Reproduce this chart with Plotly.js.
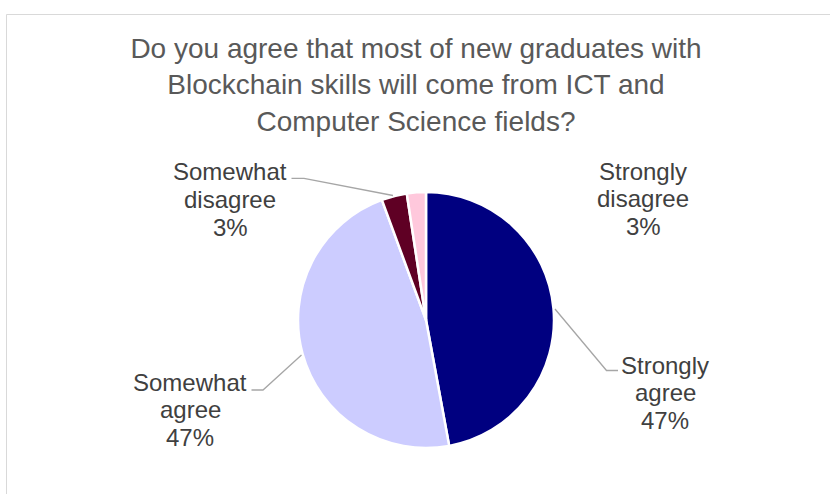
<!DOCTYPE html>
<html>
<head>
<meta charset="utf-8">
<script src="https://cdn.plot.ly/plotly-3.0.1.min.js"></script>
<style>
  html, body { margin: 0; padding: 0; background: #ffffff; overflow: hidden; }
  #chart { width: 830px; height: 494px; }
</style>
</head>
<body>
<div id="chart"></div>
<script>
// ---- data ----
const categories = ["Strongly agree", "Somewhat agree", "Somewhat disagree", "Strongly disagree"];
const shares = [47.1, 47.3, 3.2, 2.4];
const shownPct = ["47%", "47%", "3%", "3%"];
const labelNameLines = [["Strongly", "agree"], ["Somewhat", "agree"], ["Somewhat", "disagree"], ["Strongly", "disagree"]];
const titleText = "Do you agree that most of new graduates with<br>Blockchain skills will come from ICT and<br>Computer Science fields?";

// ---- styling / layout ----
const W = 830, H = 494;
const sliceColors = ["#000080", "#CCCCFF", "#5F0024", "#FFC8DC"];
const px = x => x / W;
const py = y => 1 - y / H;

// label centre positions (pixels) for first line, line step
const labelPos = [[665, 365], [190, 382], [230, 172], [643, 171]];
const lineStep = 27.5;
// leader lines (pixels)
const leaders = [
  [[555, 309], [606.5, 370.5], [618, 370.5]],
  [[301.5, 355], [263, 390], [251.5, 390]],
  [[393, 195.5], [304, 178.3], [291.5, 178.3]]
];

const cx = 426, cy = 320, R = 128;

const annotations = [];
categories.forEach((c, i) => {
  const lines = labelNameLines[i].concat([shownPct[i]]);
  lines.forEach((t, k) => {
    annotations.push({
      text: t, showarrow: false, xref: "paper", yref: "paper",
      x: px(labelPos[i][0]), y: py(labelPos[i][1] + k * lineStep),
      xanchor: "center", yanchor: "middle",
      font: {family: "Liberation Sans, Arial, sans-serif", size: 24, color: "#404040"}
    });
  });
});

const shapes = [{
  type: "rect", xref: "paper", yref: "paper",
  x0: px(6.5), x1: px(900), y0: py(14.5), y1: py(600),
  line: {color: "#D9D9D9", width: 1}, fillcolor: "rgba(0,0,0,0)", layer: "below"
}];
leaders.forEach(pts => {
  let d = "M" + pts.map(p => px(p[0]) + "," + py(p[1])).join(" L");
  shapes.push({type: "path", xref: "paper", yref: "paper", path: d,
    line: {color: "#A6A6A6", width: 1.3}});
});

const trace = {
  type: "pie",
  labels: categories,
  values: shares,
  sort: false,
  direction: "clockwise",
  rotation: 0,
  marker: {colors: sliceColors, line: {color: "#FFFFFF", width: 2.5}},
  textinfo: "none",
  hoverinfo: "label+percent",
  showlegend: false,
  domain: {x: [px(cx - R), px(cx + R)], y: [py(cy + R), py(cy - R)]}
};

const layout = {
  width: W, height: H,
  margin: {l: 0, r: 0, t: 0, b: 0},
  paper_bgcolor: "#FFFFFF",
  title: {
    text: titleText,
    font: {family: "Liberation Sans, Arial, sans-serif", size: 28, color: "#595959"},
    x: px(416), xanchor: "center",
    y: py(58), yref: "container", yanchor: "middle"
  },
  showlegend: false,
  annotations: annotations,
  shapes: shapes
};

Plotly.newPlot("chart", [trace], layout, {displayModeBar: false, staticPlot: true});
</script>
</body>
</html>
